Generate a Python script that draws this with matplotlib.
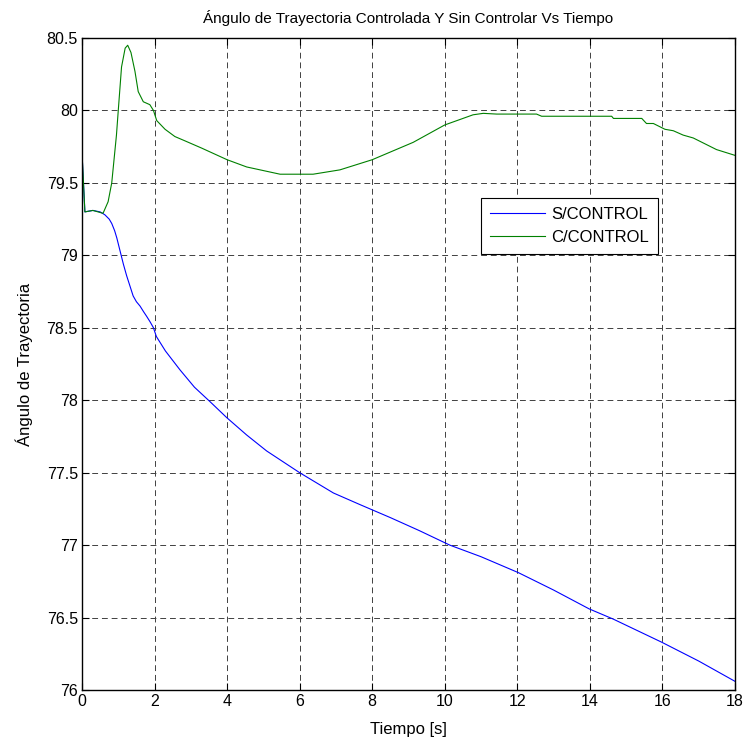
import numpy as np
import matplotlib.pyplot as plt

plt.rcParams['font.family'] = ['Liberation Sans', 'DejaVu Sans']
plt.rcParams['font.size'] = 11

# S/CONTROL (blue)
t_sin = [0, 0.08, 0.3, 0.5, 0.63, 0.75, 0.82, 0.9, 0.96, 1.03, 1.09, 1.14, 1.23,
         1.32, 1.41, 1.5, 1.6, 1.7, 1.78, 1.88, 1.97, 2.05, 2.3, 2.7, 3.1, 3.53,
         3.99, 4.54, 5.09, 6.0, 6.93, 7.66, 8.5, 9.3, 10.14, 11.0, 12.03, 13.0,
         13.98, 14.64, 15.98, 17.0, 18.0]
v_sin = [79.71, 79.30, 79.31, 79.30, 79.28, 79.25, 79.22, 79.17, 79.12, 79.05,
         78.99, 78.94, 78.86, 78.79, 78.72, 78.68, 78.65, 78.61, 78.58, 78.54,
         78.50, 78.44, 78.34, 78.21, 78.09, 77.99, 77.88, 77.76, 77.65, 77.50,
         77.36, 77.28, 77.19, 77.10, 77.00, 76.92, 76.81, 76.69, 76.56, 76.49,
         76.33, 76.20, 76.06]

# C/CONTROL (green)
t_con = [0, 0.08, 0.3, 0.58, 0.72, 0.82, 0.95, 1.0, 1.09, 1.19, 1.26, 1.35,
         1.46, 1.55, 1.69, 1.87, 1.97, 2.06, 2.29, 2.56, 2.84, 3.3, 4.0, 4.54,
         5.46, 6.37, 7.11, 8.0, 9.13, 10.0, 10.78, 11.06, 11.43, 12.53, 12.67,
         14.6, 14.65, 15.43, 15.56, 15.75, 16.07, 16.3, 16.57, 16.85, 17.49, 18.0]
v_con = [79.71, 79.30, 79.31, 79.29, 79.37, 79.50, 79.83, 80.0, 80.30, 80.43,
         80.45, 80.40, 80.27, 80.13, 80.06, 80.04, 80.0, 79.93, 79.87, 79.82,
         79.79, 79.74, 79.66, 79.61, 79.56, 79.56, 79.59, 79.66, 79.78, 79.90,
         79.97, 79.98, 79.975, 79.975, 79.96, 79.96, 79.945, 79.945, 79.91,
         79.91, 79.87, 79.86, 79.83, 79.81, 79.73, 79.69]

x_ticks = np.arange(0, 19, 2)
y_ticks = np.arange(76, 80.51, 0.5)
y_labels = ['76', '76.5', '77', '77.5', '78', '78.5', '79', '79.5', '80', '80.5']

fig = plt.figure(figsize=(7.44, 7.38), dpi=100)
ax = fig.add_axes([0.1102, 0.065, 0.8777, 0.8835])

ax.plot(t_sin, v_sin, color='#0000ff', linewidth=0.8, label='S/CONTROL')
ax.plot(t_con, v_con, color='#008000', linewidth=0.8, label='C/CONTROL')

ax.set_xlim(0, 18)
ax.set_ylim(76, 80.5)
ax.set_xticks(x_ticks)
ax.set_yticks(y_ticks)
ax.set_yticklabels(y_labels)

ax.grid(True, color='#404040', linestyle=(0, (6, 4)), linewidth=0.7)
ax.tick_params(direction='in', length=5, top=True, right=True, width=0.8,
               labelsize=11.5, pad=3)
for s in ax.spines.values():
    s.set_linewidth(1.0)

ax.set_title('Ángulo de Trayectoria Controlada Y Sin Controlar Vs Tiempo',
             fontsize=11, pad=11)
ax.set_xlabel('Tiempo [s]', fontsize=12, labelpad=9)
ax.set_ylabel('Ángulo de Trayectoria', fontsize=12, labelpad=10)

leg = ax.legend(loc='upper left', bbox_to_anchor=(0.6106, 0.755),
                borderaxespad=0, fancybox=False, framealpha=1,
                edgecolor='black', handlelength=3.3, handletextpad=0.36,
                borderpad=0.55, labelspacing=0.5, fontsize=12)
leg.get_frame().set_linewidth(0.8)

fig.savefig('out.png', dpi=100)
